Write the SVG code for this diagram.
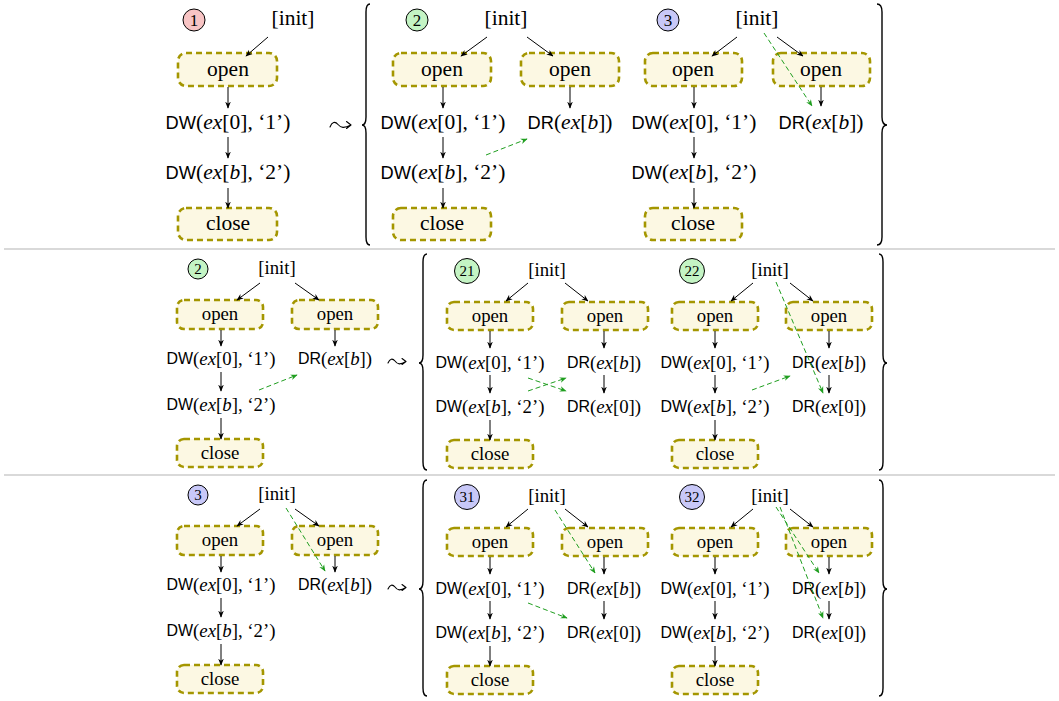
<svg xmlns="http://www.w3.org/2000/svg" width="1059" height="701" viewBox="0 0 1059 701">
<defs>
<style>
text{font-family:"Liberation Serif",serif;text-anchor:middle;dominant-baseline:central;fill:#000}
.r1{font-size:21.5px}
.r2{font-size:18.8px}
.sf{font-family:"Liberation Sans",sans-serif;font-size:0.85em}
.it{font-style:italic}
.box{fill:#fcf8e3;stroke:#a49600;stroke-width:2.6;stroke-dasharray:6 4}
.e{stroke:#000;stroke-width:1;fill:none;marker-end:url(#ah)}
.g{stroke:#1f9e1f;stroke-width:1;stroke-dasharray:5 3;fill:none;marker-end:url(#ag)}
.br{stroke:#000;stroke-width:1.4;fill:none}
.lt{stroke:#000;stroke-width:1.1;fill:none;stroke-linecap:round;stroke-linejoin:round}
.sep{stroke:#b4b4b4;stroke-width:1.2}
.cp{fill:#f8c4c4;stroke:#000;stroke-width:1}
.cg{fill:#c4f4c4;stroke:#000;stroke-width:1}
.cb{fill:#c8c8f8;stroke:#000;stroke-width:1}
.n1{font-size:17px}
.n2{font-size:15px}
</style>
<marker id="ah" viewBox="0 0 10 10" refX="9" refY="5" markerWidth="7" markerHeight="7" orient="auto" markerUnits="userSpaceOnUse"><path d="M0,1 L10,5 L0,9 L3,5z" fill="#000"/></marker>
<marker id="ag" viewBox="0 0 10 10" refX="9" refY="5" markerWidth="7" markerHeight="7" orient="auto" markerUnits="userSpaceOnUse"><path d="M0,1 L10,5 L0,9 L3,5z" fill="#1f9e1f"/></marker>
</defs>
<rect width="1059" height="701" fill="#fff"/>

<g id="separators">
<line class="sep" x1="4" y1="249" x2="1055" y2="249"/>
<line class="sep" x1="4" y1="475" x2="1055" y2="475"/>
</g>

<g id="braces">
<path class="br" d="M370,4 Q366,4 366,12 L366,117 Q366,125 362,125 Q366,125 366,133 L366,237 Q366,245 370,245"/>
<path class="br" d="M877,4 Q882,4 882,12 L882,117 Q882,125 887,125 Q882,125 882,133 L882,237 Q882,245 877,245"/>
<path class="br" d="M427,254 Q423,254 423,262 L423,355 Q423,363 419,363 Q423,363 423,371 L423,462 Q423,470 427,470"/>
<path class="br" d="M879,254 Q883,254 883,262 L883,355 Q883,363 887,363 Q883,363 883,371 L883,462 Q883,470 879,470"/>
<path class="br" d="M427,480 Q423,480 423,488 L423,581 Q423,589 419,589 Q423,589 423,597 L423,688 Q423,696 427,696"/>
<path class="br" d="M879,480 Q883,480 883,488 L883,581 Q883,589 887,589 Q883,589 883,597 L883,688 Q883,696 879,696"/>
</g>

<g id="leadsto">
<path class="lt" d="M330,127 C332,122 335,121 338,124.5 C341,128 344,128.5 351,125 M346.5,121.5 L351,125 L346.5,128.5"/>
<path class="lt" d="M388,363 C390,358.5 392.5,358 395,361 C397.5,364.5 400,365 406,361.5 M402,358.5 L406,361.5 L402,364.5"/>
<path class="lt" d="M388,589 C390,584.5 392.5,584 395,587 C397.5,590.5 400,591 406,587.5 M402,584.5 L406,587.5 L402,590.5"/>
</g>

<!-- Row 1 Panel 1 -->
<g id="p1-label"><circle class="cp" cx="194" cy="20" r="11"/><text class="n1" x="194" y="20">1</text></g>
<g id="p1-init"><text class="r1" x="293" y="18">[init]</text></g>
<g id="p1-open"><rect class="box" x="178" y="53" width="99" height="33" rx="8"/><text class="r1" x="228" y="69">open</text></g>
<g id="p1-dw1"><text class="r1" x="228" y="122"><tspan class="sf">DW</tspan>(<tspan class="it">ex</tspan>[0], ‘1’)</text></g>
<g id="p1-dw2"><text class="r1" x="228" y="172"><tspan class="sf">DW</tspan>(<tspan class="it">ex</tspan>[<tspan class="it">b</tspan>], ‘2’)</text></g>
<g id="p1-close"><rect class="box" x="178" y="208" width="99" height="32" rx="8"/><text class="r1" x="228" y="223">close</text></g>

<!-- Row 1 Panel 2 -->
<g id="p2-label"><circle class="cg" cx="417" cy="20" r="11"/><text class="n1" x="417" y="20">2</text></g>
<g id="p2-init"><text class="r1" x="506" y="18">[init]</text></g>
<g id="p2-open-a"><rect class="box" x="393" y="53" width="98" height="33" rx="8"/><text class="r1" x="442" y="69">open</text></g>
<g id="p2-open-b"><rect class="box" x="521" y="53" width="98" height="33" rx="8"/><text class="r1" x="570" y="69">open</text></g>
<g id="p2-dw1"><text class="r1" x="443" y="122"><tspan class="sf">DW</tspan>(<tspan class="it">ex</tspan>[0], ‘1’)</text></g>
<g id="p2-dr"><text class="r1" x="570" y="122"><tspan class="sf">DR</tspan>(<tspan class="it">ex</tspan>[<tspan class="it">b</tspan>])</text></g>
<g id="p2-dw2"><text class="r1" x="443" y="172"><tspan class="sf">DW</tspan>(<tspan class="it">ex</tspan>[<tspan class="it">b</tspan>], ‘2’)</text></g>
<g id="p2-close"><rect class="box" x="393" y="208" width="98" height="32" rx="8"/><text class="r1" x="442" y="223">close</text></g>

<!-- Row 1 Panel 3 -->
<g id="p3-label"><circle class="cb" cx="668" cy="20" r="11"/><text class="n1" x="668" y="20">3</text></g>
<g id="p3-init"><text class="r1" x="757" y="18">[init]</text></g>
<g id="p3-open-a"><rect class="box" x="645" y="53" width="97" height="33" rx="8"/><text class="r1" x="693" y="69">open</text></g>
<g id="p3-open-b"><rect class="box" x="773" y="53" width="97" height="33" rx="8"/><text class="r1" x="821" y="69">open</text></g>
<g id="p3-dw1"><text class="r1" x="694" y="122"><tspan class="sf">DW</tspan>(<tspan class="it">ex</tspan>[0], ‘1’)</text></g>
<g id="p3-dr"><text class="r1" x="821" y="122"><tspan class="sf">DR</tspan>(<tspan class="it">ex</tspan>[<tspan class="it">b</tspan>])</text></g>
<g id="p3-dw2"><text class="r1" x="694" y="172"><tspan class="sf">DW</tspan>(<tspan class="it">ex</tspan>[<tspan class="it">b</tspan>], ‘2’)</text></g>
<g id="p3-close"><rect class="box" x="645" y="208" width="97" height="32" rx="8"/><text class="r1" x="693" y="223">close</text></g>

<!-- Row 2 Left -->
<g id="q2-label"><circle class="cg" cx="198" cy="269" r="10"/><text class="n2" x="198" y="269">2</text></g>
<g id="q2-init"><text class="r2" x="277" y="267">[init]</text></g>
<g id="q2-open-a"><rect class="box" x="177" y="300" width="86" height="29" rx="7"/><text class="r2" x="220" y="313">open</text></g>
<g id="q2-open-b"><rect class="box" x="292" y="300" width="86" height="29" rx="7"/><text class="r2" x="335" y="313">open</text></g>
<g id="q2-dw1"><text class="r2" x="221" y="358"><tspan class="sf">DW</tspan>(<tspan class="it">ex</tspan>[0], ‘1’)</text></g>
<g id="q2-dr"><text class="r2" x="335" y="358"><tspan class="sf">DR</tspan>(<tspan class="it">ex</tspan>[<tspan class="it">b</tspan>])</text></g>
<g id="q2-dw2"><text class="r2" x="221" y="404"><tspan class="sf">DW</tspan>(<tspan class="it">ex</tspan>[<tspan class="it">b</tspan>], ‘2’)</text></g>
<g id="q2-close"><rect class="box" x="177" y="439" width="86" height="28" rx="7"/><text class="r2" x="220" y="452">close</text></g>

<!-- Row 2 Panel 21 -->
<g id="q21-label"><circle class="cg" cx="467" cy="271" r="12.5"/><text class="n2" x="467" y="271">21</text></g>
<g id="q21-init"><text class="r2" x="547" y="269">[init]</text></g>
<g id="q21-open-a"><rect class="box" x="447" y="302" width="86" height="28" rx="7"/><text class="r2" x="490" y="315">open</text></g>
<g id="q21-open-b"><rect class="box" x="562" y="302" width="86" height="28" rx="7"/><text class="r2" x="605" y="315">open</text></g>
<g id="q21-dw1"><text class="r2" x="490" y="362"><tspan class="sf">DW</tspan>(<tspan class="it">ex</tspan>[0], ‘1’)</text></g>
<g id="q21-drb"><text class="r2" x="604" y="362"><tspan class="sf">DR</tspan>(<tspan class="it">ex</tspan>[<tspan class="it">b</tspan>])</text></g>
<g id="q21-dw2"><text class="r2" x="490" y="406"><tspan class="sf">DW</tspan>(<tspan class="it">ex</tspan>[<tspan class="it">b</tspan>], ‘2’)</text></g>
<g id="q21-dr0"><text class="r2" x="604" y="406"><tspan class="sf">DR</tspan>(<tspan class="it">ex</tspan>[0])</text></g>
<g id="q21-close"><rect class="box" x="447" y="440" width="86" height="28" rx="7"/><text class="r2" x="490" y="453">close</text></g>

<!-- Row 2 Panel 22 -->
<g id="q22-label"><circle class="cg" cx="692" cy="271" r="12.5"/><text class="n2" x="692" y="271">22</text></g>
<g id="q22-init"><text class="r2" x="770" y="269">[init]</text></g>
<g id="q22-open-a"><rect class="box" x="672" y="302" width="86" height="28" rx="7"/><text class="r2" x="715" y="315">open</text></g>
<g id="q22-open-b"><rect class="box" x="786" y="302" width="86" height="28" rx="7"/><text class="r2" x="829" y="315">open</text></g>
<g id="q22-dw1"><text class="r2" x="715" y="362"><tspan class="sf">DW</tspan>(<tspan class="it">ex</tspan>[0], ‘1’)</text></g>
<g id="q22-drb"><text class="r2" x="829" y="362"><tspan class="sf">DR</tspan>(<tspan class="it">ex</tspan>[<tspan class="it">b</tspan>])</text></g>
<g id="q22-dw2"><text class="r2" x="715" y="406"><tspan class="sf">DW</tspan>(<tspan class="it">ex</tspan>[<tspan class="it">b</tspan>], ‘2’)</text></g>
<g id="q22-dr0"><text class="r2" x="829" y="406"><tspan class="sf">DR</tspan>(<tspan class="it">ex</tspan>[0])</text></g>
<g id="q22-close"><rect class="box" x="672" y="440" width="86" height="28" rx="7"/><text class="r2" x="715" y="453">close</text></g>

<!-- Row 3 Left -->
<g id="s3-label"><circle class="cb" cx="198" cy="495" r="10"/><text class="n2" x="198" y="495">3</text></g>
<g id="s3-init"><text class="r2" x="277" y="493">[init]</text></g>
<g id="s3-open-a"><rect class="box" x="177" y="526" width="86" height="29" rx="7"/><text class="r2" x="220" y="539">open</text></g>
<g id="s3-open-b"><rect class="box" x="292" y="526" width="86" height="29" rx="7"/><text class="r2" x="335" y="539">open</text></g>
<g id="s3-dw1"><text class="r2" x="221" y="584"><tspan class="sf">DW</tspan>(<tspan class="it">ex</tspan>[0], ‘1’)</text></g>
<g id="s3-dr"><text class="r2" x="335" y="584"><tspan class="sf">DR</tspan>(<tspan class="it">ex</tspan>[<tspan class="it">b</tspan>])</text></g>
<g id="s3-dw2"><text class="r2" x="221" y="630"><tspan class="sf">DW</tspan>(<tspan class="it">ex</tspan>[<tspan class="it">b</tspan>], ‘2’)</text></g>
<g id="s3-close"><rect class="box" x="177" y="665" width="86" height="28" rx="7"/><text class="r2" x="220" y="678">close</text></g>

<!-- Row 3 Panel 31 -->
<g id="s31-label"><circle class="cb" cx="467" cy="497" r="12.5"/><text class="n2" x="467" y="497">31</text></g>
<g id="s31-init"><text class="r2" x="547" y="495">[init]</text></g>
<g id="s31-open-a"><rect class="box" x="447" y="528" width="86" height="28" rx="7"/><text class="r2" x="490" y="541">open</text></g>
<g id="s31-open-b"><rect class="box" x="562" y="528" width="86" height="28" rx="7"/><text class="r2" x="605" y="541">open</text></g>
<g id="s31-dw1"><text class="r2" x="490" y="588"><tspan class="sf">DW</tspan>(<tspan class="it">ex</tspan>[0], ‘1’)</text></g>
<g id="s31-drb"><text class="r2" x="604" y="588"><tspan class="sf">DR</tspan>(<tspan class="it">ex</tspan>[<tspan class="it">b</tspan>])</text></g>
<g id="s31-dw2"><text class="r2" x="490" y="632"><tspan class="sf">DW</tspan>(<tspan class="it">ex</tspan>[<tspan class="it">b</tspan>], ‘2’)</text></g>
<g id="s31-dr0"><text class="r2" x="604" y="632"><tspan class="sf">DR</tspan>(<tspan class="it">ex</tspan>[0])</text></g>
<g id="s31-close"><rect class="box" x="447" y="666" width="86" height="28" rx="7"/><text class="r2" x="490" y="679">close</text></g>

<!-- Row 3 Panel 32 -->
<g id="s32-label"><circle class="cb" cx="692" cy="497" r="12.5"/><text class="n2" x="692" y="497">32</text></g>
<g id="s32-init"><text class="r2" x="770" y="495">[init]</text></g>
<g id="s32-open-a"><rect class="box" x="672" y="528" width="86" height="28" rx="7"/><text class="r2" x="715" y="541">open</text></g>
<g id="s32-open-b"><rect class="box" x="786" y="528" width="86" height="28" rx="7"/><text class="r2" x="829" y="541">open</text></g>
<g id="s32-dw1"><text class="r2" x="715" y="588"><tspan class="sf">DW</tspan>(<tspan class="it">ex</tspan>[0], ‘1’)</text></g>
<g id="s32-drb"><text class="r2" x="829" y="588"><tspan class="sf">DR</tspan>(<tspan class="it">ex</tspan>[<tspan class="it">b</tspan>])</text></g>
<g id="s32-dw2"><text class="r2" x="715" y="632"><tspan class="sf">DW</tspan>(<tspan class="it">ex</tspan>[<tspan class="it">b</tspan>], ‘2’)</text></g>
<g id="s32-dr0"><text class="r2" x="829" y="632"><tspan class="sf">DR</tspan>(<tspan class="it">ex</tspan>[0])</text></g>
<g id="s32-close"><rect class="box" x="672" y="666" width="86" height="28" rx="7"/><text class="r2" x="715" y="679">close</text></g>

<g id="connectors">
<!-- row 1 panel 1 -->
<line class="e" x1="268" y1="37" x2="246" y2="56"/>
<line class="e" x1="228" y1="87" x2="228" y2="108"/>
<line class="e" x1="228" y1="137" x2="228" y2="158"/>
<line class="e" x1="228" y1="188" x2="228" y2="208"/>
<!-- row 1 panel 2 -->
<line class="e" x1="487" y1="37" x2="461" y2="56"/>
<line class="e" x1="527" y1="37" x2="553" y2="56"/>
<line class="e" x1="443" y1="87" x2="443" y2="108"/>
<line class="e" x1="570" y1="87" x2="570" y2="108"/>
<line class="e" x1="443" y1="137" x2="443" y2="158"/>
<line class="e" x1="443" y1="188" x2="443" y2="208"/>
<line class="g" x1="486" y1="155" x2="527" y2="139"/>
<!-- row 1 panel 3 -->
<line class="e" x1="737" y1="37" x2="712" y2="56"/>
<line class="e" x1="777" y1="37" x2="803" y2="56"/>
<line class="e" x1="694" y1="87" x2="694" y2="108"/>
<line class="e" x1="821" y1="87" x2="821" y2="106"/>
<line class="e" x1="694" y1="137" x2="694" y2="158"/>
<line class="e" x1="694" y1="188" x2="694" y2="208"/>
<line class="g" x1="764" y1="33" x2="812" y2="106"/>
<!-- row 2 left -->
<line class="e" x1="260" y1="283" x2="237" y2="300"/>
<line class="e" x1="295" y1="283" x2="319" y2="300"/>
<line class="e" x1="221" y1="330" x2="221" y2="346"/>
<line class="e" x1="335" y1="330" x2="335" y2="346"/>
<line class="e" x1="221" y1="372" x2="221" y2="391"/>
<line class="e" x1="221" y1="418" x2="221" y2="439"/>
<line class="g" x1="259" y1="390" x2="297" y2="375"/>
<!-- row 2 panel 21 -->
<line class="e" x1="528" y1="283" x2="506" y2="301"/>
<line class="e" x1="565" y1="283" x2="588" y2="301"/>
<line class="e" x1="490" y1="331" x2="490" y2="348"/>
<line class="e" x1="604" y1="331" x2="604" y2="348"/>
<line class="e" x1="490" y1="375" x2="490" y2="393"/>
<line class="e" x1="604" y1="375" x2="604" y2="393"/>
<line class="e" x1="490" y1="420" x2="490" y2="440"/>
<line class="g" x1="528" y1="378" x2="566" y2="391"/>
<line class="g" x1="528" y1="391" x2="566" y2="378"/>
<!-- row 2 panel 22 -->
<line class="e" x1="753" y1="283" x2="731" y2="301"/>
<line class="e" x1="790" y1="283" x2="813" y2="301"/>
<line class="e" x1="715" y1="331" x2="715" y2="348"/>
<line class="e" x1="829" y1="331" x2="829" y2="348"/>
<line class="e" x1="715" y1="375" x2="715" y2="393"/>
<line class="e" x1="829" y1="375" x2="829" y2="393"/>
<line class="e" x1="715" y1="420" x2="715" y2="440"/>
<line class="g" x1="776" y1="282" x2="823" y2="393"/>
<line class="g" x1="752" y1="390" x2="790" y2="376"/>
<!-- row 3 left -->
<line class="e" x1="260" y1="509" x2="237" y2="526"/>
<line class="e" x1="295" y1="509" x2="319" y2="526"/>
<line class="e" x1="221" y1="556" x2="221" y2="572"/>
<line class="e" x1="335" y1="556" x2="335" y2="572"/>
<line class="e" x1="221" y1="598" x2="221" y2="617"/>
<line class="e" x1="221" y1="644" x2="221" y2="665"/>
<line class="g" x1="286" y1="508" x2="325" y2="571"/>
<!-- row 3 panel 31 -->
<line class="e" x1="528" y1="509" x2="506" y2="527"/>
<line class="e" x1="565" y1="509" x2="588" y2="527"/>
<line class="e" x1="490" y1="557" x2="490" y2="574"/>
<line class="e" x1="604" y1="557" x2="604" y2="574"/>
<line class="e" x1="490" y1="601" x2="490" y2="619"/>
<line class="e" x1="604" y1="601" x2="604" y2="619"/>
<line class="e" x1="490" y1="646" x2="490" y2="666"/>
<line class="g" x1="555" y1="510" x2="595" y2="573"/>
<line class="g" x1="528" y1="603" x2="567" y2="618"/>
<!-- row 3 panel 32 -->
<line class="e" x1="753" y1="509" x2="731" y2="527"/>
<line class="e" x1="790" y1="509" x2="813" y2="527"/>
<line class="e" x1="715" y1="557" x2="715" y2="574"/>
<line class="e" x1="829" y1="557" x2="829" y2="574"/>
<line class="e" x1="715" y1="601" x2="715" y2="619"/>
<line class="e" x1="829" y1="601" x2="829" y2="619"/>
<line class="e" x1="715" y1="646" x2="715" y2="666"/>
<line class="g" x1="776" y1="507" x2="819" y2="573"/>
<line class="g" x1="780" y1="507" x2="823" y2="618"/>
</g>
</svg>
